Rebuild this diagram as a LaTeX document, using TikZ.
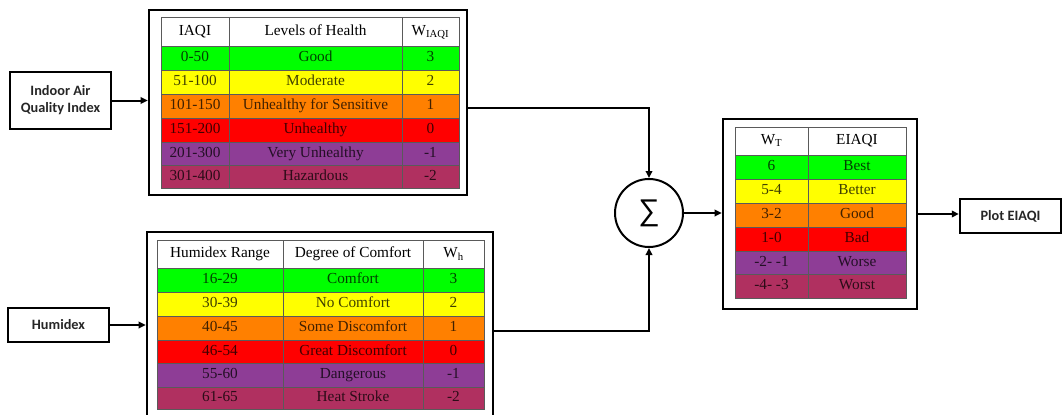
\documentclass[tikz,border=0pt]{standalone}
\usepackage{fontspec}
\setmainfont{Liberation Serif}
\newfontfamily\boxfont{Carlito}
\newfontfamily\sigmafont{Liberation Sans}
\newfontfamily\cellfont{Liberation Serif}
\usetikzlibrary{arrows.meta,calc}
\definecolor{cgreen}{RGB}{0,255,0}
\definecolor{cyellow}{RGB}{255,255,0}
\definecolor{corange}{RGB}{255,128,0}
\definecolor{cred}{RGB}{255,0,0}
\definecolor{cpurple}{RGB}{142,61,150}
\definecolor{cmaroon}{RGB}{176,48,96}
\definecolor{gridgray}{RGB}{90,90,90}
\tikzset{
  outerbox/.style={draw, line width=2.6pt, inner sep=0pt},
  labelbox/.style={draw, line width=2.4pt, inner sep=0pt, align=center,
    text=black!85, font=\boxfont\bfseries\fontsize{14.3}{17}\selectfont},
  cell/.style={inner sep=0pt, text height=10.5pt, text depth=3pt,
    font=\cellfont\fontsize{15.3}{18}\selectfont},
  rowcell/.style={cell, text opacity=0.75},
  gridline/.style={draw=gridgray, line width=0.8pt},
  conn/.style={line width=2pt, -{Triangle[length=7pt,width=6.5pt]}},
}
\begin{document}
\begin{tikzpicture}[x=1pt,y=-1pt]
\clip (0,0) rectangle (1063,415);
\fill[white] (0,0) rectangle (1063,415);

% ---------- input boxes ----------
\node[labelbox, minimum width=101pt, minimum height=57pt] (iaq) at (60.5,100.5) {Indoor Air\\Quality Index};
\node[labelbox, minimum width=101pt, minimum height=34pt] (hum) at (58.5,325) {Humidex};

% ---------- IAQI table ----------
\node[outerbox, minimum width=318pt, minimum height=185pt] (tab1) at (308,102.5) {};
\node[cell] (t1h1) at (195,31.5) {IAQI};
\node[cell] (t1h2) at (315.5,31.5) {Levels of Health};
\node[cell] (t1h3) at (430.5,31.5) {W\textsubscript{IAQI}};
\foreach \ya/\yb/\c/\a/\b/\w [count=\i] in {
  46/70/cgreen/0-50/Good/3,
  70/94/cyellow/51-100/Moderate/2,
  94/118/corange/101-150/Unhealthy for Sensitive/1,
  118/142/cred/151-200/Unhealthy/0,
  142/165/cpurple/201-300/Very Unhealthy/-1,
  165/188/cmaroon/301-400/Hazardous/-2}{
  \fill[\c] (161,\ya) rectangle (459,\yb);
  \draw[gridline] (161,\ya) -- (459,\ya);
  \node[rowcell] (t1r\i a) at (195,{(\ya+\yb)/2}) {\a};
  \node[rowcell] (t1r\i b) at (315.5,{(\ya+\yb)/2}) {\b};
  \node[rowcell] (t1r\i c) at (430.5,{(\ya+\yb)/2}) {\w};
}
\draw[gridline] (161,17) rectangle (459,188);
\draw[gridline] (229,17) -- (229,188);
\draw[gridline] (402,17) -- (402,188);

% ---------- Humidex table ----------
\node[outerbox, minimum width=346pt, minimum height=193pt] (tab2) at (320,328.5) {};
\node[cell] (t2h1) at (220,254) {Humidex Range};
\node[cell] (t2h2) at (353,254) {Degree of Comfort};
\node[cell] (t2h3) at (453.5,254) {W\textsubscript{h}};
\foreach \ya/\yb/\c/\a/\b/\w [count=\i] in {
  268/292/cgreen/16-29/Comfort/3,
  292/316/cyellow/30-39/No Comfort/2,
  316/340/corange/40-45/Some Discomfort/1,
  340/363/cred/46-54/Great Discomfort/0,
  363/387/cpurple/55-60/Dangerous/-1,
  387/409/cmaroon/61-65/Heat Stroke/-2}{
  \fill[\c] (157,\ya) rectangle (484,\yb);
  \draw[gridline] (157,\ya) -- (484,\ya);
  \node[rowcell] (t2r\i a) at (220,{(\ya+\yb)/2}) {\a};
  \node[rowcell] (t2r\i b) at (353,{(\ya+\yb)/2}) {\b};
  \node[rowcell] (t2r\i c) at (453.5,{(\ya+\yb)/2}) {\w};
}
\draw[gridline] (157,240) rectangle (484,409);
\draw[gridline] (283,240) -- (283,409);
\draw[gridline] (423,240) -- (423,409);

% ---------- Sum ----------
\node[draw, circle, line width=2pt, minimum size=68pt, inner sep=0pt] (sum) at (649,213)
  {\sigmafont\fontsize{30}{30}\selectfont ∑};

% ---------- EIAQI table ----------
\node[outerbox, minimum width=194pt, minimum height=190pt] (tab3) at (820,214) {};
\node[cell] (t3h1) at (771.5,141) {W\textsubscript{T}};
\node[cell] (t3h2) at (857,141) {EIAQI};
\foreach \ya/\yb/\c/\a/\b [count=\i] in {
  155/179/cgreen/6/Best,
  179/203/cyellow/5-4/Better,
  203/227/corange/3-2/Good,
  227/251/cred/1-0/Bad,
  251/274/cpurple/-2- -1/Worse,
  274/298/cmaroon/-4- -3/Worst}{
  \fill[\c] (735,\ya) rectangle (906,\yb);
  \draw[gridline] (735,\ya) -- (906,\ya);
  \node[rowcell] (t3r\i a) at (771.5,{(\ya+\yb)/2}) {\a};
  \node[rowcell] (t3r\i b) at (857,{(\ya+\yb)/2}) {\b};
}
\draw[gridline] (735,127) rectangle (906,298);
\draw[gridline] (808,127) -- (808,298);

% ---------- output box ----------
\node[labelbox, minimum width=101pt, minimum height=34pt] (plot) at (1010.5,216) {Plot EIAQI};

% ---------- connectors ----------
\draw[conn] (iaq.east) -- (iaq.east -| tab1.west);
\draw[conn] (hum.east) -- (hum.east -| tab2.west);
\draw[conn] ([yshift=-5.5pt]tab1.east) -| (sum.north);
\draw[conn] ([yshift=-2.5pt]tab2.east) -| (sum.south);
\draw[conn] (sum.east) -- (sum.east -| tab3.west);
\draw[conn] (tab3.east) -- (tab3.east -| plot.west);
\end{tikzpicture}
\end{document}
